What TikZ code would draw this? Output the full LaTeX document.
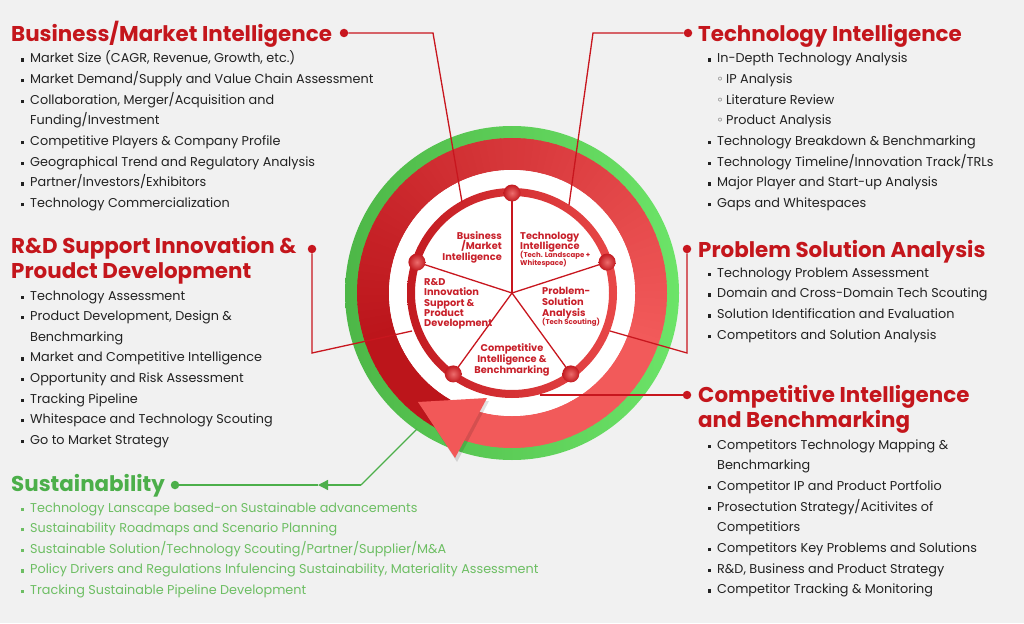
\documentclass[tikz,border=0pt]{standalone}
\usepackage{fontspec}
\setmainfont{Poppins}
\newfontfamily\symfont{DejaVu Sans}
\usetikzlibrary{arrows.meta}
\definecolor{bgc}{HTML}{F1F1F1}
\definecolor{hred}{HTML}{C4161C}
\definecolor{txt}{HTML}{222222}
\definecolor{sgreen}{HTML}{4CAF4A}
\definecolor{lgreen}{HTML}{6DBE63}
\definecolor{ringlight}{HTML}{F25A5A}
\definecolor{ringdark}{HTML}{BC151B}
\definecolor{linered}{HTML}{C8161E}
\definecolor{greenD}{HTML}{4DB747}
\definecolor{greenL}{HTML}{6CE468}
\definecolor{ctext}{HTML}{C8202A}
\definecolor{arrowc}{HTML}{F25858}
\definecolor{innerD}{HTML}{C21A20}
\definecolor{innerL}{HTML}{E84848}
\newcommand{\sqb}{\rule[1.3pt]{3.2pt}{3.2pt}}
\newcommand{\bl}{\makebox[9pt][l]{\sqb}}
\newcommand{\cl}{\hspace*{9pt}}
\newcommand{\sbl}{\makebox[9pt][l]{\hspace{-0.5pt}{\symfont\fontsize{12}{12}\selectfont ◦}}}
\begin{document}
\begin{tikzpicture}[x=1pt, y=-1pt,
  head/.style={anchor=base west, inner sep=0pt, font=\fontsize{21.4}{24}\selectfont\bfseries, text=hred},
  item/.style={anchor=base west, inner sep=0pt, font=\fontsize{12.8}{15}\selectfont, text=txt},
  gitem/.style={item, text=lgreen},
  ctxt/.style={inner sep=0pt, font=\fontsize{9.8}{11}\selectfont\bfseries, text=ctext},
  csmall/.style={inner sep=0pt, font=\fontsize{7}{8}\selectfont\bfseries, text=ctext},
  dotr/.style={circle, fill=linered, inner sep=0pt, minimum size=8.5pt},
  dotg/.style={circle, fill=sgreen, inner sep=0pt, minimum size=8.5pt},
  conn/.style={draw=linered, line width=1.3pt},
  gconn/.style={draw=sgreen, line width=1.3pt}]
\useasboundingbox (0,0) rectangle (1024,623);
\fill[bgc] (0,0) rectangle (1024,623);

% ---- central wheel ----
\begin{scope}[shift={(512,293)}]
  \shade[left color=greenD, right color=greenL, even odd rule] (0,0) circle (167pt) (0,0) circle (154pt);
  \foreach \a in {-110,-107,...,247} {
    \pgfmathsetmacro\t{min(100,max(0,(((\a+110)/360)-0.25)/0.6*100))}
    \fill[ringdark!\t!ringlight] (\a:123pt) arc[start angle=\a, end angle=\a+3.6, radius=123pt]
      -- ({\a+3.6}:155pt) arc[start angle=\a+3.6, end angle=\a, radius=155pt] -- cycle;
  }
  \fill[white] (0,0) circle (123pt);
  \shade[left color=innerD, right color=innerL, even odd rule] (0,0) circle (105pt) (0,0) circle (97pt);
  \foreach \a in {90,18,-54,-126,162} {
    \draw[linered, line width=1.3pt] (0,0) -- (\a:100pt);
  }
  \foreach \a in {90,18,-54,-126,162} {
    \shade[inner color=innerL!80!white, outer color=innerD] (\a:100pt) circle (8.5pt);
  }
\end{scope}
\fill[black, opacity=0.12] (420,405) -- (489,401) -- (457,462) -- cycle;
\fill[arrowc] (418,402) -- (487,398) -- (455,458) -- cycle;

% ---- labels in the wheel ----
\node[ctxt, anchor=base east] (w1a) at (502,239) {Business};
\node[ctxt, anchor=base east] (w1b) at (502,249.5) {/Market};
\node[ctxt, anchor=base east] (w1c) at (502,260) {Intelligence};
\node[ctxt, anchor=base west] (w2a) at (520,239) {Technology};
\node[ctxt, anchor=base west] (w2b) at (520,249.5) {Intelligence};
\node[csmall, anchor=base west] (w2c) at (520,257.5) {(Tech. Landscape +};
\node[csmall, anchor=base west] (w2d) at (520,265) {Whitespace)};
\node[ctxt, anchor=base west] (w3a) at (542,294) {Problem-};
\node[ctxt, anchor=base west] (w3b) at (542,305) {Solution};
\node[ctxt, anchor=base west] (w3c) at (542,316) {Analysis};
\node[csmall, anchor=base west] (w3d) at (542,324.5) {(Tech Scouting)};
\node[ctxt, anchor=base] (w4a) at (512,351.5) {Competitive};
\node[ctxt, anchor=base] (w4b) at (512,362) {Intelligence \&};
\node[ctxt, anchor=base] (w4c) at (512,373) {Benchmarking};
\node[ctxt, anchor=base west] (w5a) at (424,285) {R\&D};
\node[ctxt, anchor=base west] (w5b) at (424,295.5) {Innovation};
\node[ctxt, anchor=base west] (w5c) at (424,306) {Support \&};
\node[ctxt, anchor=base west] (w5d) at (424,316) {Product};
\node[ctxt, anchor=base west] (w5e) at (424,326) {Development};

% ---- connectors ----
\node[dotr] (dBM) at (344,33) {};
\node[dotr] (dTI) at (688,33) {};
\node[dotr] (dRD) at (312,249) {};
\node[dotr] (dPS) at (687,249) {};
\node[dotr] (dCI) at (687,395) {};
\node[dotg] (dSU) at (175,485) {};
\coordinate (eBM) at (462,202);
\coordinate (eTI) at (569,205);
\coordinate (eRD) at (412,331);
\coordinate (ePS) at (610,331);
\coordinate (eCI) at (540,395);
\coordinate (eSU) at (417,429);
\coordinate (cSU) at (361,485);
\coordinate (aSU) at (318,485);
\draw[conn] (dBM) -- (433,33) -- (eBM);
\draw[conn] (dTI) -- (593,33) -- (eTI);
\draw[conn] (dRD) -- (312,353) -- (eRD);
\draw[conn] (dPS) -- (687,353) -- (ePS);
\draw[conn] (dCI) -- (eCI);
\draw[gconn] (eSU) -- (cSU);
\draw[gconn, -{Triangle[length=10pt,width=10pt]}] (cSU) -- (aSU);
\draw[gconn] (aSU) -- (dSU);

% ---- headings ----
\node[head] (hBM) at (11,41.7) {Business/Market Intelligence};
\node[head] (hTI) at (698,42) {Technology Intelligence};
\node[head] (hRD1) at (11,253) {R\&D Support Innovation \&};
\node[head] (hRD2) at (11,278) {Proudct Development};
\node[head] (hPS) at (698,257) {Problem Solution Analysis};
\node[head] (hCI1) at (698,402) {Competitive Intelligence};
\node[head] (hCI2) at (698,427) {and Benchmarking};
\node[head, text=sgreen] (hSU) at (11,491) {Sustainability};

% ---- lists ----
\foreach \t [count=\i from 0] in {{\bl Market Size (CAGR, Revenue, Growth, etc.)},{\bl Market Demand/Supply and Value Chain Assessment},{\bl Collaboration, Merger/Acquisition and},{\cl Funding/Investment},{\bl Competitive Players \& Company Profile},{\bl Geographical Trend and Regulatory Analysis},{\bl Partner/Investors/Exhibitors},{\bl Technology Commercialization}}
  \node[item] (bm\i) at (21,{63+20.65*\i}) {\t};
\foreach \t [count=\i from 0] in {{\bl In-Depth Technology Analysis},{\cl\sbl IP Analysis},{\cl\sbl Literature Review},{\cl\sbl Product Analysis},{\bl Technology Breakdown \& Benchmarking},{\bl Technology Timeline/Innovation Track/TRLs},{\bl Major Player and Start-up Analysis},{\bl Gaps and Whitespaces}}
  \node[item] (ti\i) at (708,{63+20.65*\i}) {\t};
\foreach \t [count=\i from 0] in {{\bl Technology Assessment},{\bl Product Development, Design \&},{\cl Benchmarking},{\bl Market and Competitive Intelligence},{\bl Opportunity and Risk Assessment},{\bl Tracking Pipeline},{\bl Whitespace and Technology Scouting},{\bl Go to Market Strategy}}
  \node[item] (rd\i) at (21,{300+20.6*\i}) {\t};
\foreach \t [count=\i from 0] in {{\bl Technology Problem Assessment},{\bl Domain and Cross-Domain Tech Scouting},{\bl Solution Identification and Evaluation},{\bl Competitors and Solution Analysis}}
  \node[item] (ps\i) at (708,{277+20.9*\i}) {\t};
\foreach \t [count=\i from 0] in {{\bl Competitors Technology Mapping \&},{\cl Benchmarking},{\bl Competitor IP and Product Portfolio},{\bl Prosectution Strategy/Acitivites of},{\cl Competitiors},{\bl Competitors Key Problems and Solutions},{\bl R\&D, Business and Product Strategy},{\bl Competitor Tracking \& Monitoring}}
  \node[item] (ci\i) at (708,{449+20.7*\i}) {\t};
\foreach \t [count=\i from 0] in {{\bl Technology Lanscape based-on Sustainable advancements},{\bl Sustainability Roadmaps and Scenario Planning},{\bl Sustainable Solution/Technology Scouting/Partner/Supplier/M\&A},{\bl Policy Drivers and Regulations Infulencing Sustainability, Materiality Assessment},{\bl Tracking Sustainable Pipeline Development}}
  \node[gitem] (su\i) at (21,{512+20.6*\i}) {\t};
\end{tikzpicture}
\end{document}
